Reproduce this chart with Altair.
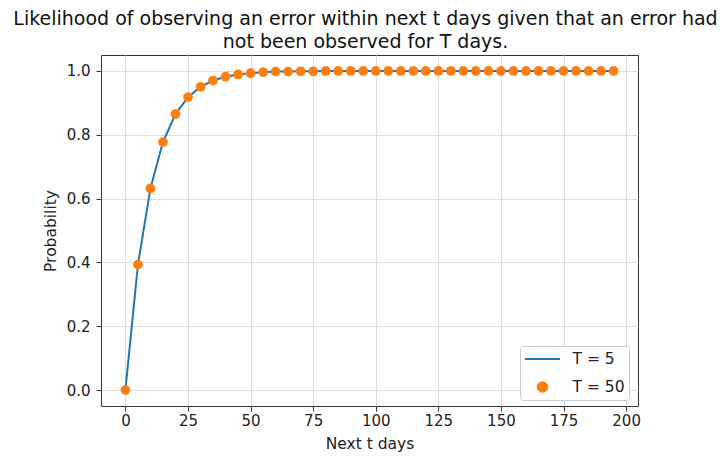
import altair as alt
import pandas as pd

t_days = [0, 5, 10, 15, 20, 25, 30, 35, 40, 45, 50, 55, 60, 65, 70, 75, 80, 85, 90, 95,
          100, 105, 110, 115, 120, 125, 130, 135, 140, 145, 150, 155, 160, 165, 170, 175,
          180, 185, 190, 195]
p_T5 = [0.0, 0.393, 0.632, 0.777, 0.865, 0.918, 0.950, 0.970, 0.982, 0.989, 0.993, 0.996,
        0.998, 0.998, 0.999, 0.999, 1.0, 1.0, 1.0, 1.0, 1.0, 1.0, 1.0, 1.0, 1.0, 1.0, 1.0,
        1.0, 1.0, 1.0, 1.0, 1.0, 1.0, 1.0, 1.0, 1.0, 1.0, 1.0, 1.0, 1.0]
p_T50 = list(p_T5)
series = ["T = 5", "T = 50"]
colors = ["#1f77b4", "#ff7f0e"]
x_ticks = [0, 25, 50, 75, 100, 125, 150, 175, 200]
y_ticks = [0.0, 0.2, 0.4, 0.6, 0.8, 1.0]

df_line = pd.DataFrame({"t": t_days, "p": p_T5, "series": series[0]})
df_pts = pd.DataFrame({"t": t_days, "p": p_T50, "series": series[1]})

font = "DejaVu Sans"

xenc = alt.X("t:Q", title="Next t days",
             scale=alt.Scale(domain=[-9.75, 204.75], nice=False, zero=False),
             axis=alt.Axis(values=x_ticks, format="d", titlePadding=8, labelPadding=2))
yenc = alt.Y("p:Q", title="Probability",
             scale=alt.Scale(domain=[-0.05, 1.05], nice=False, zero=False),
             axis=alt.Axis(values=y_ticks, format=".1f", titlePadding=8, labelPadding=6))

is5 = "datum.value == 'T = 5'"
line_path = "'M-2.2,0H2.2'"
dot_path = "'M-0.6,0A0.6,0.6 0 1,0 0.6,0A0.6,0.6 0 1,0 -0.6,0Z'"
legend = alt.Legend(
    title=None, orient="none", legendX=419, legendY=291,
    fillColor="white", strokeColor="#cccccc", cornerRadius=3, padding=4,
    labelFontSize=15.5, labelFont=font, labelColor="#222", labelOffset=21,
    rowPadding=10, symbolSize=256, symbolOffset=9.5,
    symbolType=alt.ExprRef(expr=f"{is5} ? {line_path} : {dot_path}"),
    symbolFillColor=alt.ExprRef(expr=f"{is5} ? 'transparent' : '#ff7f0e'"),
    symbolStrokeColor=alt.ExprRef(expr=f"{is5} ? '#1f77b4' : 'transparent'"),
    symbolStrokeWidth=2,
    symbolOpacity=1,
)

color = alt.Color("series:N", scale=alt.Scale(domain=series, range=colors), legend=legend)

line = alt.Chart(df_line).mark_line(strokeWidth=2).encode(x=xenc, y=yenc, color=color)
pts = alt.Chart(df_pts).mark_point(filled=True, size=95, opacity=1).encode(x=xenc, y=yenc, color=color)

chart = alt.layer(line, pts).properties(
    width=537, height=351,
    autosize=alt.AutoSizeParams(type="none"),
    padding={"left": 93, "top": 47, "right": 80, "bottom": 48},
    title=alt.TitleParams(
        text=["Likelihood of observing an error within next t days given that an error had",
              "not been observed for T days."],
        font=font, fontSize=19, fontWeight="normal", color="#111",
        anchor="middle", dx=-4, offset=3, lineHeight=23),
).configure_view(stroke="#333", strokeWidth=1).configure_axis(
    labelFont=font, titleFont=font, labelFontSize=15, titleFontSize=15.5,
    titleFontWeight="normal", labelColor="#222", titleColor="#222",
    domain=False, tickColor="#333", tickSize=5,
    grid=True, gridColor="#dddddd", gridWidth=1,
)

chart.save("out.html", embed_options={"renderer": "svg", "actions": False})
